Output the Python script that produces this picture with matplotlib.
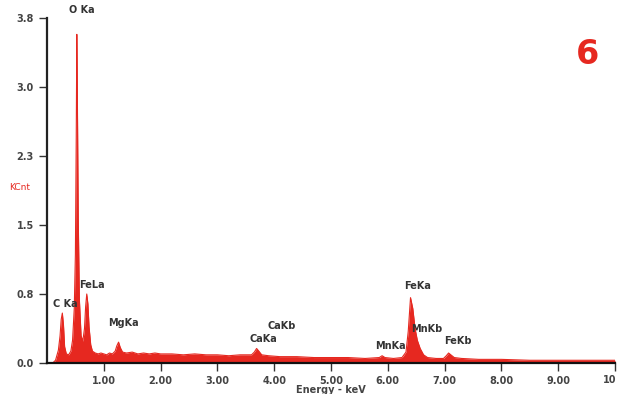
import matplotlib
matplotlib.use('Agg')
import matplotlib.pyplot as plt

# spectrum (keV, kilo-counts)
energy = [0.10, 0.15, 0.20, 0.23, 0.25, 0.27, 0.29, 0.31, 0.34, 0.38, 0.42, 0.45, 0.48,
          0.50, 0.515, 0.525, 0.535, 0.55, 0.57, 0.60, 0.63, 0.66, 0.68, 0.70, 0.72,
          0.74, 0.77, 0.80, 0.85, 0.90, 0.95, 1.00, 1.05, 1.10, 1.15, 1.20, 1.23, 1.26,
          1.29, 1.33, 1.40, 1.50, 1.60, 1.70, 1.80, 1.90, 2.00, 2.20, 2.40, 2.60, 2.80,
          3.00, 3.20, 3.40, 3.60, 3.65, 3.69, 3.73, 3.78, 3.90, 4.10, 4.40, 4.70, 5.00,
          5.30, 5.60, 5.85, 5.90, 5.95, 6.10, 6.25, 6.32, 6.36, 6.40, 6.44, 6.48, 6.52,
          6.57, 6.63, 6.70, 6.85, 6.98, 7.03, 7.07, 7.11, 7.17, 7.30, 7.60, 8.00, 8.50,
          9.00, 9.50, 10.00]
counts = [0.00, 0.03, 0.14, 0.30, 0.48, 0.55, 0.42, 0.18, 0.10, 0.09, 0.13, 0.25, 0.60,
          1.20, 2.50, 3.62, 2.90, 1.60, 0.70, 0.30, 0.24, 0.38, 0.62, 0.76, 0.65,
          0.40, 0.20, 0.13, 0.11, 0.10, 0.11, 0.10, 0.09, 0.11, 0.10, 0.13, 0.19, 0.23,
          0.17, 0.12, 0.11, 0.12, 0.10, 0.11, 0.10, 0.11, 0.10, 0.10, 0.09, 0.10, 0.09,
          0.09, 0.08, 0.09, 0.09, 0.12, 0.16, 0.13, 0.09, 0.08, 0.07, 0.07, 0.06, 0.06,
          0.06, 0.05, 0.06, 0.08, 0.06, 0.05, 0.06, 0.12, 0.35, 0.72, 0.60, 0.38, 0.25,
          0.16, 0.09, 0.06, 0.05, 0.05, 0.08, 0.11, 0.09, 0.06, 0.05, 0.04, 0.04, 0.03,
          0.03, 0.03, 0.03]

yticks = [0.0, 0.76, 1.52, 2.28, 3.04, 3.8]
ytick_labels = ['0.0', '0.8', '1.5', '2.3', '3.0', '3.8']
xticks = [1, 2, 3, 4, 5, 6, 7, 8, 9, 10]
xtick_labels = ['1.00', '2.00', '3.00', '4.00', '5.00', '6.00', '7.00', '8.00', '9.00', '']
last_tick_label = '10'

peak_names = ['O Ka', 'C Ka', 'FeLa', 'MgKa', 'CaKb', 'CaKa', 'MnKa', 'FeKa', 'MnKb', 'FeKb']
peak_x = [0.62, 0.33, 0.79, 1.35, 4.14, 3.81, 6.05, 6.52, 6.68, 7.23]
peak_y = [3.89, 0.65, 0.86, 0.44, 0.41, 0.26, 0.19, 0.85, 0.37, 0.24]

red = '#e62820'
dark = '#333333'

fig = plt.figure(figsize=(6.17, 3.94), dpi=100)
ax = fig.add_axes([47 / 617, 31 / 394, 568 / 617, 345 / 394])

ax.fill_between(energy, counts, 0, color=red, lw=0)
ax.plot(energy, counts, color=red, lw=0.8)

ax.set_xlim(0, 10)
ax.set_ylim(0, 3.8)
ax.set_xticks(xticks)
ax.set_xticklabels(xtick_labels)
ax.set_yticks(yticks)
ax.set_yticklabels(ytick_labels)
ax.tick_params(axis='both', colors=dark, labelsize=7, width=1, length=6)
for lab in ax.get_xticklabels() + ax.get_yticklabels():
    lab.set_fontweight('bold')
    lab.set_color('#444444')

# last tick label pushed inside the figure edge
ax.annotate(last_tick_label, xy=(10, 0), xytext=(1, -8.5), textcoords='offset points',
            ha='right', va='top', fontsize=7, fontweight='bold', color='#444444',
            annotation_clip=False)

for side in ['top', 'right']:
    ax.spines[side].set_visible(False)
ax.spines['left'].set_linewidth(1.6)
ax.spines['bottom'].set_linewidth(1.6)
ax.spines['left'].set_color('#222222')
ax.spines['bottom'].set_color('#111111')

ax.set_xlabel('Energy - keV', fontsize=7, fontweight='bold', color='#444444', labelpad=-1)

for name, px, py in zip(peak_names, peak_x, peak_y):
    ax.text(px, py, name, fontsize=7, fontweight='bold', color=dark,
            ha='center', va='center', clip_on=False)

fig.text(20 / 617, 1 - 188 / 394, 'KCnt', fontsize=6.5, color=red, ha='center', va='center')
fig.text(587 / 617, 1 - 55 / 394, '6', fontsize=24, fontweight='bold', color=red,
         ha='center', va='center')

fig.savefig('out.png', dpi=100)
